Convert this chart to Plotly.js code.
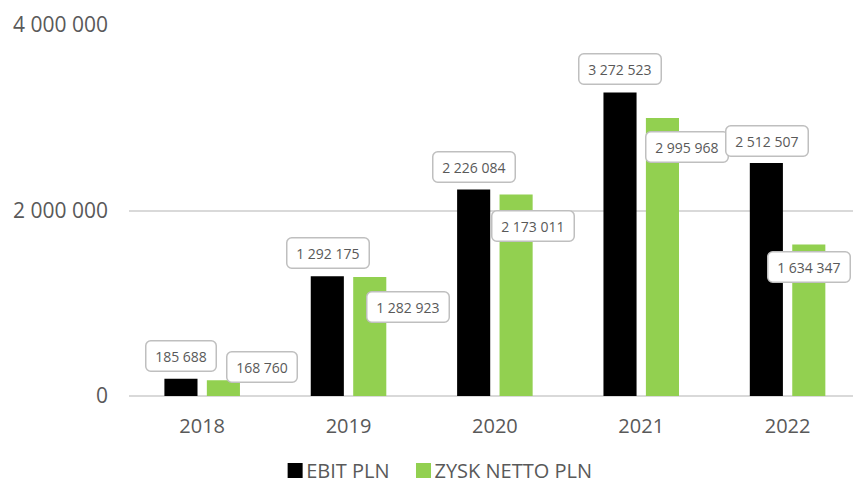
<!DOCTYPE html>
<html>
<head>
<meta charset="utf-8">
<script src="https://cdn.plot.ly/plotly-3.0.1.min.js"></script>
<style>
  html, body { margin: 0; padding: 0; background: #fff; }
  #chart { width: 853px; height: 488px; }
</style>
</head>
<body>
<div id="chart"></div>
<script>
// chart data
const years = ['2018', '2019', '2020', '2021', '2022'];
const ebit = [185688, 1292175, 2226084, 3272523, 2512507];
const zyskNetto = [168760, 1282923, 2173011, 2995968, 1634347];
const yTicks = [0, 2000000, 4000000];

// label placement (pixels from the category centre / bar top)
const ebitShiftX = [-21, -21, -21, -21, -21];
const ebitShiftY = [23, 23, 23, 23, 22];
const zyskShiftX = [60, 59, 38, 46, 21];
const zyskShiftY = [13, -30, -32, -29, -23];

const GRAY_TEXT = '#595959';
const FONT = '"Open Sans", "Noto Sans", sans-serif';

// 1234567 -> "1 234 567"
function fmt(v) {
  return String(v).replace(/\B(?=(\d{3})+(?!\d))/g, ' ');
}

// i = category index on the x axis
function labelBox(i, y, dx, dy) {
  return {
    x: i, y: y, xref: 'x', yref: 'y',
    text: '\u00a0' + fmt(y) + '\u00a0',
    showarrow: false,
    xanchor: 'center', yanchor: 'middle',
    xshift: dx, yshift: dy,
    font: { family: FONT, size: 14, color: GRAY_TEXT },
    bgcolor: '#ffffff',
    bordercolor: '#BFBFBF',
    borderwidth: 1.5,
    borderpad: 5
  };
}

const annotations = [];
years.forEach((yr, i) => {
  annotations.push(labelBox(i, ebit[i], ebitShiftX[i], ebitShiftY[i]));
  annotations.push(labelBox(i, zyskNetto[i], zyskShiftX[i], zyskShiftY[i]));
});

const traces = [
  { type: 'bar', name: 'EBIT PLN', x: years, y: ebit, marker: { color: '#000000' }, hoverinfo: 'skip' },
  { type: 'bar', name: 'ZYSK NETTO PLN', x: years, y: zyskNetto, marker: { color: '#92D050' }, hoverinfo: 'skip' }
];

const layout = {
  width: 853,
  height: 488,
  margin: { l: 129, r: 0, t: 25, b: 92 },
  paper_bgcolor: '#ffffff',
  plot_bgcolor: '#ffffff',
  font: { family: FONT, color: GRAY_TEXT },
  barmode: 'group',
  bargap: 0.42,
  bargroupgap: 0.22,
  showlegend: true,
  legend: {
    orientation: 'h',
    xref: 'paper', x: 0.418, xanchor: 'center',
    yref: 'container', y: 0.036, yanchor: 'middle',
    font: { family: FONT, size: 20, color: GRAY_TEXT },
    traceorder: 'normal'
  },
  xaxis: {
    type: 'category',
    range: [-0.5, 4.447],
    showgrid: false,
    showline: false,
    zeroline: false,
    ticks: '',
    tickfont: { family: FONT, size: 20, color: GRAY_TEXT },
    ticklabelstandoff: 16
  },
  yaxis: {
    range: [0, 4000000],
    tickvals: yTicks,
    ticktext: yTicks.map(fmt),
    showgrid: true,
    gridcolor: '#D9D9D9',
    gridwidth: 1.5,
    zeroline: true,
    zerolinecolor: '#D9D9D9',
    zerolinewidth: 1.5,
    showline: false,
    ticks: '',
    tickfont: { family: FONT, size: 21, color: GRAY_TEXT },
    ticklabelstandoff: 20
  },
  annotations: annotations
};

Plotly.newPlot('chart', traces, layout, { displayModeBar: false }).then(gd => {
  // rounded label boxes like the original
  gd.querySelectorAll('.annotation rect.bg').forEach(r => {
    r.setAttribute('rx', 5);
    r.setAttribute('ry', 5);
  });
  // slightly bigger legend squares sitting closer to their text
  gd.querySelectorAll('.legendpoints path').forEach(p => {
    p.setAttribute('transform', 'translate(29,0) scale(1.25)');
  });
});
</script>
</body>
</html>
